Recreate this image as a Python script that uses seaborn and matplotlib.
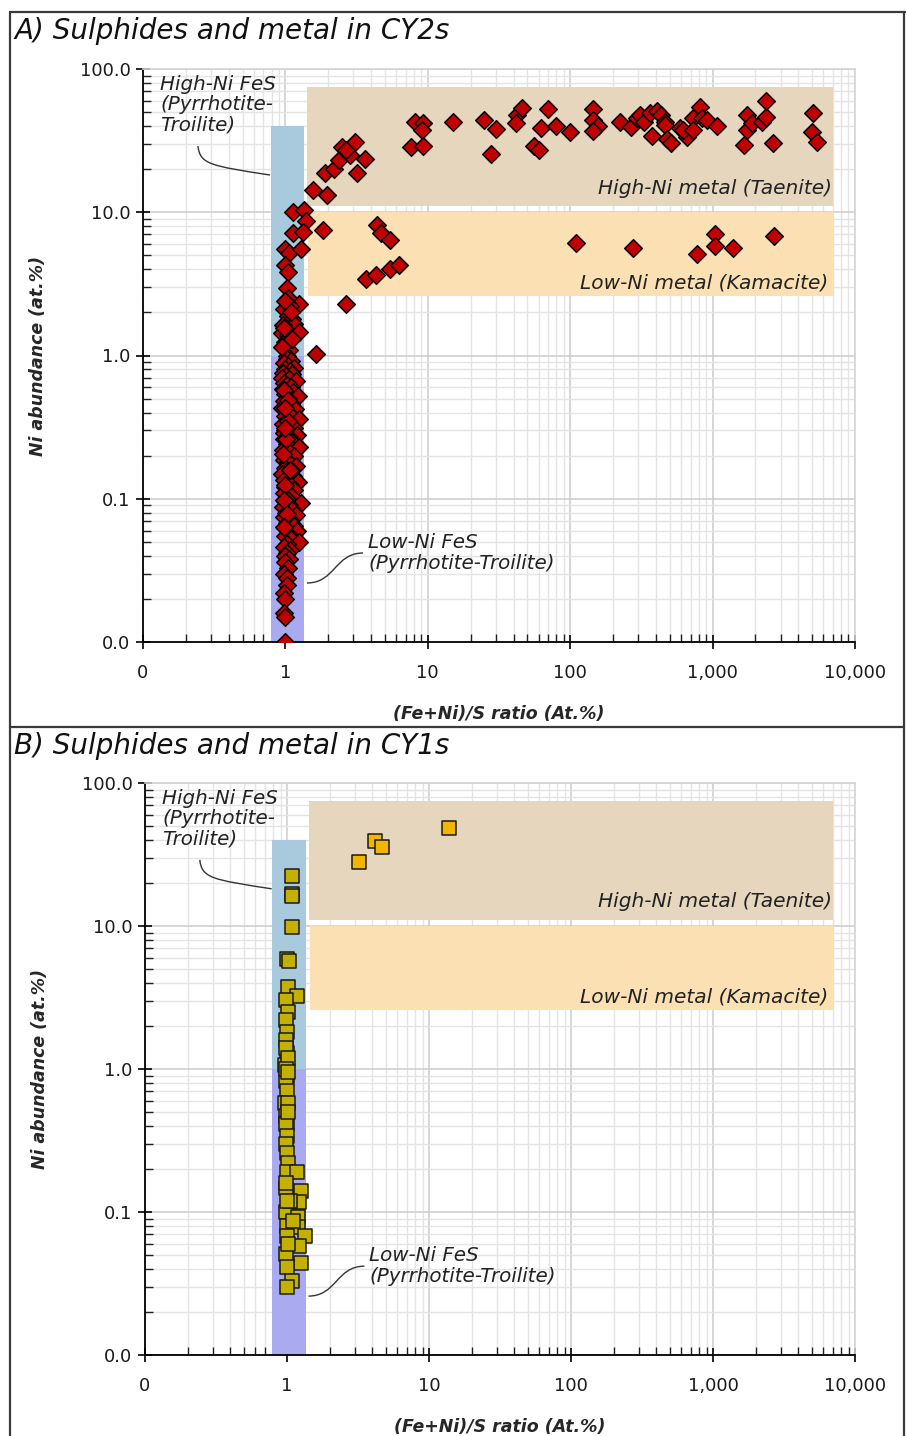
import matplotlib
matplotlib.use("Agg")
import matplotlib.pyplot as plt
import seaborn as sns
import pandas as pd
from matplotlib.path import Path
from matplotlib.patches import PathPatch
from matplotlib.lines import Line2D
from matplotlib.ticker import LogLocator, NullFormatter

# ---------------- data ----------------
x_ticks = [0.1, 1, 10, 100, 1000, 10000]
x_tick_labels = ["0", "1", "10", "100", "1,000", "10,000"]
y_ticks = [0.01, 0.1, 1, 10, 100]
y_tick_labels = ["0.0", "0.1", "1.0", "10.0", "100.0"]

# shaded fields: name, x range, y range
field_names = ["High-Ni FeS", "Low-Ni FeS", "Taenite", "Kamacite"]
field_x0 = [0.79, 0.79, 1.42, 1.45]
field_x1 = [1.35, 1.35, 7000, 7100]
field_y0 = [1.0, 0.01, 11.0, 2.6]
field_y1 = [40.0, 1.0, 75.0, 10.0]
field_colors = ["#a9c9dd", "#aaaaf0", "#e5d6bd", "#fbe0b3"]

# CY2s - metal grains and Ni-rich sulphides
cy2_metal_ratio = [1.56, 1.95, 1.89, 2.19, 2.37, 2.5, 2.84, 3.08, 2.65, 3.17, 3.6,
                   8.1, 9.3, 9.1, 7.6, 9.2, 15, 25, 30, 28, 42, 46, 41.5, 69.5, 62,
                   80, 56, 60, 99, 144, 144, 158, 144, 222, 269, 293, 307, 328, 361,
                   405, 431, 460, 460, 373, 475, 507, 586, 656, 617, 725, 811, 838,
                   908, 725, 1067, 1733, 1733, 1880, 2240, 2390, 2390, 1650, 2640,
                   5110, 4950, 5370,
                   1.13, 1.35, 1.39, 1.13, 1.33, 1.83, 1.0, 1.06, 1.29, 0.99, 1.05,
                   1.03, 4.4, 4.7, 5.4, 3.7, 4.3, 5.4, 6.3, 2.66, 1.64, 110, 277, 773,
                   1033, 1033, 1380, 2680]
cy2_metal_ni = [14.3, 13.2, 18.8, 20, 23, 28.6, 25, 31, 27, 18.8, 23.5,
                42.6, 42, 37.5, 28.6, 29, 43, 44, 38, 25.5, 48, 53.5, 42, 52.5, 38.7,
                40, 29, 27, 36.3, 52.5, 44, 40, 37, 42.6, 39.4, 45.5, 48, 42.6, 49,
                51, 48, 42.6, 40.6, 34, 32.5, 30.5, 38.7, 33.5, 37.5, 45.5, 54, 45.5,
                44, 37.5, 40, 48, 37.5, 42, 42.6, 46, 60, 29.5, 30.5,
                49.3, 36.3, 31,
                10, 10.4, 8.7, 7.2, 7.3, 7.5, 5.5, 5.2, 5.5, 4.3, 3.8,
                2.95, 8.1, 7.2, 6.4, 3.4, 3.65, 4.0, 4.3, 2.3, 1.02, 6.1, 5.6, 5.1,
                7.07, 5.8, 5.6, 6.8]

# CY2s - sulphide column near (Fe+Ni)/S = 1
cy2_fes_ratio = [1.04, 1.25, 0.98, 1.05, 1.12, 1.15, 0.96, 1.25, 0.94, 1.05, 1.0, 1.06,
                 1.02, 1.08, 1.0, 1.1, 0.98, 1.12, 0.95,
                 1.02, 1.10, 0.97, 1.05, 1.15, 0.99, 1.08, 0.96, 1.12, 1.01, 0.95, 1.06,
                 1.18, 0.98, 1.03, 1.09, 0.96, 1.13, 1.00, 1.22, 1.05, 0.97, 1.10, 1.01,
                 0.95, 1.16, 1.04, 0.99, 1.12, 1.25, 1.02, 0.96, 1.08, 1.15, 1.00, 0.97,
                 1.20, 1.06, 0.98, 1.11, 1.03, 1.25, 0.96, 1.08, 1.14, 1.00, 0.97, 1.05,
                 1.18, 0.99, 1.10, 1.02, 0.95, 1.13, 1.04, 0.98, 1.22, 1.07, 1.00, 1.15,
                 0.97, 1.09, 1.03, 0.99, 1.28, 1.06, 0.96, 1.12, 1.01, 1.18, 0.98, 1.08,
                 1.03, 1.14, 0.99, 1.21, 1.05, 1.00, 1.10, 1.25, 1.02, 0.98, 1.08, 1.03,
                 1.00, 1.06, 0.99, 1.04, 0.98, 1.02, 1.03, 0.98, 1.00, 0.97, 0.99, 1.00,
                 0.97, 1.04, 1.01, 0.96, 1.07, 1.00, 0.98, 1.03, 0.97, 1.05, 1.00, 0.99]
cy2_fes_ni = [2.5, 2.3, 2.1, 1.9, 1.8, 1.65, 1.62, 1.45, 1.43, 1.38, 1.25, 1.1,
              1.0, 2.2, 2.4, 2.0, 1.55, 1.3, 1.15,
              0.95, 0.92, 0.88, 0.85, 0.82, 0.80, 0.78, 0.76, 0.74, 0.72, 0.70, 0.68,
              0.66, 0.64, 0.62, 0.60, 0.58, 0.56, 0.54, 0.52, 0.50, 0.48, 0.46, 0.45,
              0.43, 0.42, 0.40, 0.38, 0.37, 0.36, 0.34, 0.33, 0.32, 0.31, 0.30, 0.29,
              0.28, 0.27, 0.26, 0.25, 0.24, 0.23, 0.22, 0.21, 0.20, 0.19, 0.185, 0.18,
              0.17, 0.165, 0.16, 0.155, 0.15, 0.145, 0.14, 0.135, 0.13, 0.125, 0.12, 0.115,
              0.11, 0.105, 0.10, 0.097, 0.094, 0.09, 0.087, 0.084, 0.08, 0.077, 0.074, 0.071,
              0.068, 0.065, 0.062, 0.06, 0.057, 0.055, 0.052, 0.05, 0.048, 0.046, 0.044, 0.042,
              0.040, 0.038, 0.036, 0.033, 0.030, 0.028, 0.025, 0.022, 0.020, 0.016, 0.015, 0.010,
              0.57, 0.35, 0.26, 0.205, 0.16, 0.125, 0.098, 0.078, 0.063, 0.49, 0.43, 0.31]

# CY1s - sulphide column
cy1_fes_ratio = [1.08, 1.08, 1.09, 1.08, 1.0, 1.03, 1.02, 1.17, 0.99, 1.01, 0.99, 1.0,
                 0.98, 1.0, 0.97, 1.0, 0.99, 1.0, 0.97, 1.01, 0.98, 1.0, 0.98, 1.0,
                 0.99, 1.0, 1.02, 1.0, 1.17, 0.98, 1.26, 1.21, 0.99, 1.19, 1.0, 1.19,
                 1.33, 1.0, 1.22, 0.98, 1.26, 1.0, 1.09, 1.0, 1.1, 1.05, 0.98, 1.02,
                 0.99, 1.01, 1.02, 0.99, 1.0, 1.01]
cy1_fes_ni = [22.4, 16.8, 16.3, 9.9, 5.9, 5.7, 3.76, 3.26, 3.05, 2.5, 2.2, 1.82,
              1.6, 1.3, 1.07, 0.89, 0.82, 0.7, 0.58, 0.58, 0.47, 0.42, 0.41, 0.34,
              0.3, 0.26, 0.22, 0.19, 0.19, 0.146, 0.14, 0.118, 0.1, 0.093, 0.08, 0.079,
              0.068, 0.068, 0.058, 0.051, 0.044, 0.041, 0.033, 0.03, 0.086, 0.12, 1.4, 1.2,
              1.0, 0.95, 0.5, 0.16, 0.12, 0.06]
# CY1s - metal
cy1_metal_ratio = [3.23, 4.18, 4.68, 13.8]
cy1_metal_ni = [28, 39.4, 35.7, 48.5]

panel_titles = ["A) Sulphides and metal in CY2s", "B) Sulphides and metal in CY1s"]
x_label = "(Fe+Ni)/S ratio (At.%)"
y_label = "Ni abundance (at.%)"

# ---------------- style ----------------
sns.set_style("white")
plt.rcParams["font.family"] = ["DejaVu Sans"]
narrow = ["Liberation Sans Narrow", "DejaVu Sans"]

fig = plt.figure(figsize=(9.06, 14.36), dpi=100)
W, H = 906.0, 1436.0
axA = fig.add_axes([143 / W, 1 - 642 / H, 712 / W, 573 / H])
axB = fig.add_axes([145 / W, 1 - 1355 / H, 710 / W, 572 / H])


def style_axes(ax):
    ax.set_xscale("log")
    ax.set_yscale("log")
    ax.set_xlim(0.1, 10000)
    ax.set_ylim(0.01, 100)
    ax.set_axisbelow(True)
    ax.xaxis.set_minor_locator(LogLocator(base=10, subs=range(2, 10), numticks=20))
    ax.yaxis.set_minor_locator(LogLocator(base=10, subs=range(2, 10), numticks=20))
    ax.xaxis.set_minor_formatter(NullFormatter())
    ax.yaxis.set_minor_formatter(NullFormatter())
    ax.set_xticks(x_ticks)
    ax.set_xticklabels(x_tick_labels)
    ax.set_yticks(y_ticks)
    ax.set_yticklabels(y_tick_labels)
    ax.grid(which="major", color="#cccccc", lw=1.1)
    ax.grid(which="minor", color="#e4e4e4", lw=1.0)
    ax.tick_params(which="major", direction="inout", length=10, width=1.2,
                   color="black", labelsize=13, bottom=True, left=True,
                   labelcolor="#1a1a1a")
    ax.tick_params(axis="x", which="major", pad=11)
    ax.tick_params(axis="y", which="major", pad=4)
    ax.tick_params(which="minor", direction="in", length=6, width=1.0,
                   color="#222222", bottom=True, left=True)
    for s in ["left", "bottom"]:
        ax.spines[s].set_color("black")
        ax.spines[s].set_linewidth(1.3)
    for s in ["top", "right"]:
        ax.spines[s].set_color("#d4d4d4")
        ax.spines[s].set_linewidth(1.2)
    for i in range(len(field_names)):
        ax.fill_between([field_x0[i], field_x1[i]], field_y0[i], field_y1[i],
                        color=field_colors[i], lw=0, zorder=1)
    # annotations
    ax.text(0.024, 0.99, "High-Ni FeS\n(Pyrrhotite-\nTroilite)", transform=ax.transAxes,
            ha="left", va="top", fontsize=14.3, style="italic", color="#222222",
            linespacing=1.1, zorder=5)
    ax.text(0.316, 0.19, "Low-Ni FeS\n(Pyrrhotite-Troilite)", transform=ax.transAxes,
            ha="left", va="top", fontsize=14.3, style="italic", color="#222222",
            linespacing=1.1, zorder=5)
    ax.text(0.967, 0.792, "High-Ni metal (Taenite)", transform=ax.transAxes,
            ha="right", va="center", fontsize=14.5, style="italic", color="#222222", zorder=5)
    ax.text(0.962, 0.626, "Low-Ni metal (Kamacite)", transform=ax.transAxes,
            ha="right", va="center", fontsize=14.5, style="italic", color="#222222", zorder=5)
    c1 = Path([(0.0772, 0.8656), (0.080, 0.834), (0.094, 0.831), (0.1784, 0.815)],
              [Path.MOVETO, Path.CURVE4, Path.CURVE4, Path.CURVE4])
    c2 = Path([(0.2303, 0.103), (0.2697, 0.103), (0.2697, 0.1553), (0.309, 0.1553)],
              [Path.MOVETO, Path.CURVE4, Path.CURVE4, Path.CURVE4])
    for p in (c1, c2):
        ax.add_patch(PathPatch(p, transform=ax.transAxes, fc="none", ec="#333333",
                               lw=1.0, zorder=5))


style_axes(axA)
style_axes(axB)

dfA = pd.DataFrame({"ratio": cy2_metal_ratio + cy2_fes_ratio,
                    "ni": cy2_metal_ni + cy2_fes_ni})
sns.scatterplot(data=dfA, x="ratio", y="ni", marker="D", s=80, color="#c00000",
                edgecolor="black", linewidth=1.1, ax=axA, zorder=3, legend=False)

dfB = pd.DataFrame({"ratio": cy1_fes_ratio + cy1_metal_ratio,
                    "ni": cy1_fes_ni + cy1_metal_ni,
                    "kind": ["sulphide"] * len(cy1_fes_ratio) + ["metal"] * len(cy1_metal_ratio)})
sns.scatterplot(data=dfB, x="ratio", y="ni", hue="kind", marker="s", s=100,
                palette={"sulphide": "#c4b000", "metal": "#f2b600"},
                edgecolor="#1a1a1a", linewidth=1.1, ax=axB, zorder=3, legend=False)

for ax in (axA, axB):
    ax.set_xlabel(x_label, fontsize=12.5, fontweight="bold", style="italic", family=narrow)
    ax.set_ylabel(y_label, fontsize=12.5, fontweight="bold", style="italic", family=narrow)
    ax.xaxis.set_label_coords(0.5, -0.11)
    ax.yaxis.set_label_coords(-0.135, 0.5)

# panel titles
fig.text(14 / W, 1 - 31 / H, panel_titles[0], ha="left", va="center", fontsize=20,
         style="italic", family=narrow, color="#111111")
fig.text(14 / W, 1 - 746 / H, panel_titles[1], ha="left", va="center", fontsize=20,
         style="italic", family=narrow, color="#111111")

# frame lines
fc = "#3a3a3a"
fig.add_artist(Line2D([10 / W, 10 / W], [1 - 12 / H, 0], color=fc, lw=1.6))
fig.add_artist(Line2D([10 / W, 1], [1 - 12 / H, 1 - 12 / H], color=fc, lw=1.6))
fig.add_artist(Line2D([904 / W, 904 / W], [1 - 12 / H, 0], color=fc, lw=1.6))
fig.add_artist(Line2D([10 / W, 904 / W], [1 - 727 / H, 1 - 727 / H], color=fc, lw=1.6))

fig.savefig("out.png", dpi=100)
